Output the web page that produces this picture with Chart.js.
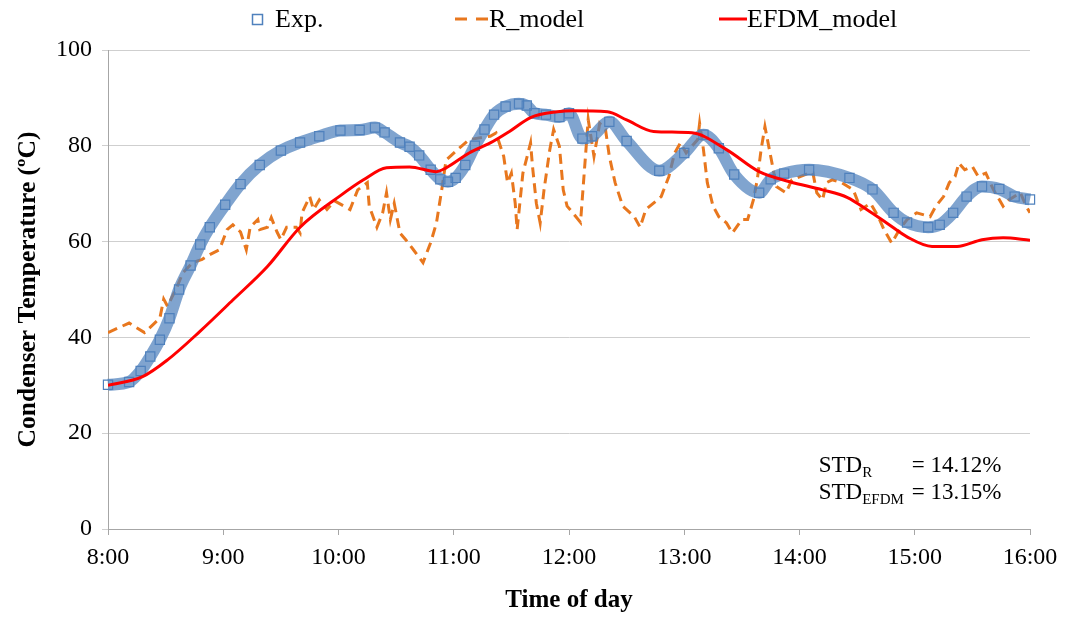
<!DOCTYPE html>
<html lang="en">
<head>
<meta charset="UTF-8">
<title>Condenser Temperature</title>
<script src="https://cdn.jsdelivr.net/npm/chart.js"></script>
<style>
    html, body { margin: 0; padding: 0; background: #fff; }
    #chart { display: block; }
</style>
</head>
<body>
<canvas id="chart" width="1067" height="617"></canvas>
<script>
// minutes after 8:00
const timeLabels = ['8:00', '9:00', '10:00', '11:00', '12:00', '13:00', '14:00', '15:00', '16:00'];

const expTime = [0, 11, 17, 22, 27, 32, 37, 43, 48, 53, 61, 69, 79, 90, 100, 110, 121, 131, 139, 144,
    152, 157, 162, 168, 173, 177, 181, 186, 191, 196, 201, 207, 214, 218, 222, 228, 235, 240, 247, 252,
    261, 270, 287, 300, 310, 318, 326, 339, 345, 352, 365, 386, 398, 409, 416, 427, 433, 440, 447, 455,
    464, 472, 480];
const expTemp = [30.1, 30.7, 33, 36, 39.5, 44, 50, 55, 59.4, 63, 67.7, 72, 76, 79, 80.7, 82, 83.2, 83.3, 83.8, 82.8,
    80.7, 79.8, 78, 75, 73, 72.5, 73.3, 76, 80, 83.4, 86.5, 88.2, 88.8, 88.4, 86.8, 86.5, 86, 86.8, 81.5, 82,
    85, 81, 74.8, 78.5, 82.3, 79.5, 74, 70.2, 73, 74.2, 75, 73.3, 70.9, 66, 64, 63, 63.5, 66, 69.4, 71.5,
    71, 69.4, 68.8];

const rTime = [0, 11, 19, 27, 29, 31, 36, 39, 44, 49, 53, 58, 62, 65, 69, 72, 74, 78, 79, 83,
    85, 88, 90, 93, 98, 100, 101, 105, 107, 110, 114, 118, 126, 130, 135, 136, 140, 143, 145, 147,
    149, 152, 155, 159, 164, 168, 171, 174, 176, 182, 188, 199, 202, 206, 208, 210, 212, 213, 216, 220,
    221, 223, 225, 227, 230, 232, 235, 237, 239, 242, 246, 250, 253, 256, 259, 261, 264, 268, 274, 277,
    280, 286, 288, 292, 295, 298, 301, 307, 308, 310, 312, 315, 318, 322, 325, 330, 333, 336, 338, 340,
    342, 345, 348, 353, 356, 365, 367, 369, 372, 374, 377, 382, 388, 392, 397, 401, 404, 408, 412, 416,
    421, 428, 431, 435, 438, 441, 443, 446, 450, 453, 457, 461, 466, 469, 475, 478, 480];
const rTemp = [41, 43, 41, 44, 48, 46.5, 50.6, 53.5, 55.6, 56.3, 57.3, 58.3, 62.5, 63.5, 62, 58.3, 63, 64.6, 62.5, 63,
    65, 62, 60.4, 63, 63, 61.8, 66, 69.4, 66.7, 68.7, 66.7, 68.5, 66.7, 70.8, 72.3, 67.4, 63, 66, 70.2, 64.6,
    68, 61.8, 60.4, 58.3, 55.6, 59.8, 63.9, 71.5, 77, 79.2, 81.3, 82, 82.7, 77.8, 72.3, 74.3, 68, 62.5, 74.3, 80.6,
    75.7, 68, 63.9, 70.8, 79.2, 83.4, 79.9, 70.8, 67.4, 66, 64, 85.5, 77.8, 84.7, 83.4, 77.8, 72.3, 67.4, 65.2, 63,
    66.7, 68.7, 69.4, 73.6, 78.5, 80.6, 78.5, 81.3, 84.7, 79.2, 72.3, 67.4, 65.2, 63.9, 61.8, 64.6, 64.6, 68.7, 72.9, 79.2,
    84, 77.8, 71.5, 70.2, 72.9, 74.3, 74.3, 70.2, 68.7, 72.3, 72.9, 72.3, 70.8, 66.7, 68, 65.2, 62.5, 59.7, 62.5, 64.6,
    66, 65.2, 67.4, 69.4, 72.3, 73.6, 76.4, 75, 75.7, 73.6, 74.3, 70.8, 67.4, 68.7, 70.2, 67.4, 66, 66];

const efdmTime = [0, 18, 31, 48, 65, 83, 100, 121, 133, 145, 157, 171, 176, 188, 199, 209, 220, 234, 242, 260,
    270, 284, 304, 322, 339, 355, 372, 385, 395, 405, 416, 429, 442, 455, 466, 480];
const efdmTemp = [30, 31.8, 35.3, 41.3, 47.8, 54.8, 63, 69.6, 72.9, 75.4, 75.6, 74.6, 75.4, 78.5, 80.6, 83, 85.9, 87.1, 87.3, 87.1,
    85.4, 83, 82.7, 79.2, 74.6, 72.5, 70.8, 69.2, 66.7, 64, 61, 59, 59, 60.4, 60.8, 60.3];

const stdLines = [
    { sub: 'R', text: '= 14.12%', y: 11.8 },
    { sub: 'EFDM', text: '= 13.15%', y: 6.3 }
];

const serif = '"Liberation Serif", "Times New Roman", serif';
const expColor = '#4F81BD';
const rColor = '#E8771E';
const efdmColor = '#FF0000';

function toPoints(xs, ys) {
    return xs.map((x, i) => ({ x: x, y: ys[i] }));
}

// legend drawn across the top, like the original
const topLegend = {
    id: 'topLegend',
    afterDraw(chart) {
        const ctx = chart.ctx;
        const y = 19;
        ctx.save();
        ctx.font = '26px ' + serif;
        ctx.textBaseline = 'middle';
        ctx.fillStyle = '#000';

        // Exp.
        ctx.strokeStyle = expColor;
        ctx.lineWidth = 1.5;
        ctx.strokeRect(252.5, 14.5, 10, 10);
        ctx.fillText('Exp.', 275, y + 1);

        // R_model
        ctx.strokeStyle = rColor;
        ctx.lineWidth = 3;
        ctx.setLineDash([12, 9]);
        ctx.beginPath();
        ctx.moveTo(455, y);
        ctx.lineTo(488, y);
        ctx.stroke();
        ctx.setLineDash([]);
        ctx.fillText('R_model', 489, y + 1);

        // EFDM_model
        ctx.strokeStyle = efdmColor;
        ctx.beginPath();
        ctx.moveTo(719, y);
        ctx.lineTo(747, y);
        ctx.stroke();
        ctx.fillText('EFDM_model', 747, y + 1);
        ctx.restore();
    }
};

const stdText = {
    id: 'stdText',
    afterDraw(chart) {
        const ctx = chart.ctx;
        const xs = chart.scales.x;
        const ys = chart.scales.y;
        const x0 = xs.getPixelForValue(370);
        const xEq = xs.getPixelForValue(418.5);
        ctx.save();
        ctx.fillStyle = '#000';
        ctx.textBaseline = 'alphabetic';
        stdLines.forEach(function (ln) {
            const base = ys.getPixelForValue(ln.y);
            ctx.font = '23px ' + serif;
            ctx.fillText('STD', x0, base);
            const w = ctx.measureText('STD').width;
            ctx.font = '15px ' + serif;
            ctx.fillText(ln.sub, x0 + w, base + 5);
            ctx.font = '23px ' + serif;
            ctx.fillText(ln.text, xEq, base);
        });
        ctx.restore();
    }
};

new Chart(document.getElementById('chart').getContext('2d'), {
    type: 'line',
    data: {
        datasets: [
            {
                label: 'EFDM_model',
                data: toPoints(efdmTime, efdmTemp),
                borderColor: efdmColor,
                borderWidth: 3,
                pointRadius: 0,
                cubicInterpolationMode: 'monotone',
                fill: false,
                order: 0
            },
            {
                label: 'Exp.',
                data: toPoints(expTime, expTemp),
                borderColor: 'rgba(79, 129, 189, 0.72)',
                borderWidth: 12,
                cubicInterpolationMode: 'monotone',
                pointStyle: 'rect',
                pointRadius: 6.5,
                pointBorderWidth: 1.2,
                pointBorderColor: expColor,
                pointBackgroundColor: 'rgba(255, 255, 255, 0)',
                clip: 10,
                fill: false,
                order: 1
            },
            {
                label: 'R_model',
                data: toPoints(rTime, rTemp),
                borderColor: rColor,
                borderWidth: 3,
                borderDash: [10, 6],
                pointRadius: 0,
                tension: 0,
                fill: false,
                order: 2
            }
        ]
    },
    options: {
        responsive: false,
        animation: false,
        layout: { padding: { top: 50, right: 37, left: 0, bottom: 0 } },
        plugins: {
            legend: { display: false },
            tooltip: { enabled: false }
        },
        scales: {
            x: {
                type: 'linear',
                min: 0,
                max: 480,
                ticks: {
                    stepSize: 60,
                    maxRotation: 0,
                    padding: 8,
                    color: '#000',
                    font: { family: serif, size: 24 },
                    callback: function (v) { return timeLabels[v / 60]; }
                },
                grid: { drawOnChartArea: false, drawTicks: true, tickLength: 6, color: '#A6A6A6' },
                border: { color: '#A6A6A6' },
                title: {
                    display: true,
                    text: 'Time of day',
                    color: '#000',
                    font: { family: serif, size: 25, weight: 'bold' },
                    padding: { top: 0, bottom: 1 }
                },
                afterFit: function (s) { s.height = 88; }
            },
            y: {
                min: 0,
                max: 100,
                ticks: {
                    stepSize: 20,
                    padding: 10,
                    color: '#000',
                    font: { family: serif, size: 24 }
                },
                grid: { color: '#CFCFCF', tickLength: 6 },
                border: { color: '#A6A6A6' },
                title: {
                    display: true,
                    text: 'Condenser Temperature (ºC)',
                    color: '#000',
                    font: { family: serif, size: 25.5, weight: 'bold' },
                    padding: { top: 13, bottom: 0 }
                },
                afterFit: function (s) { s.width = 108; }
            }
        }
    },
    plugins: [topLegend, stdText]
});
</script>
</body>
</html>
